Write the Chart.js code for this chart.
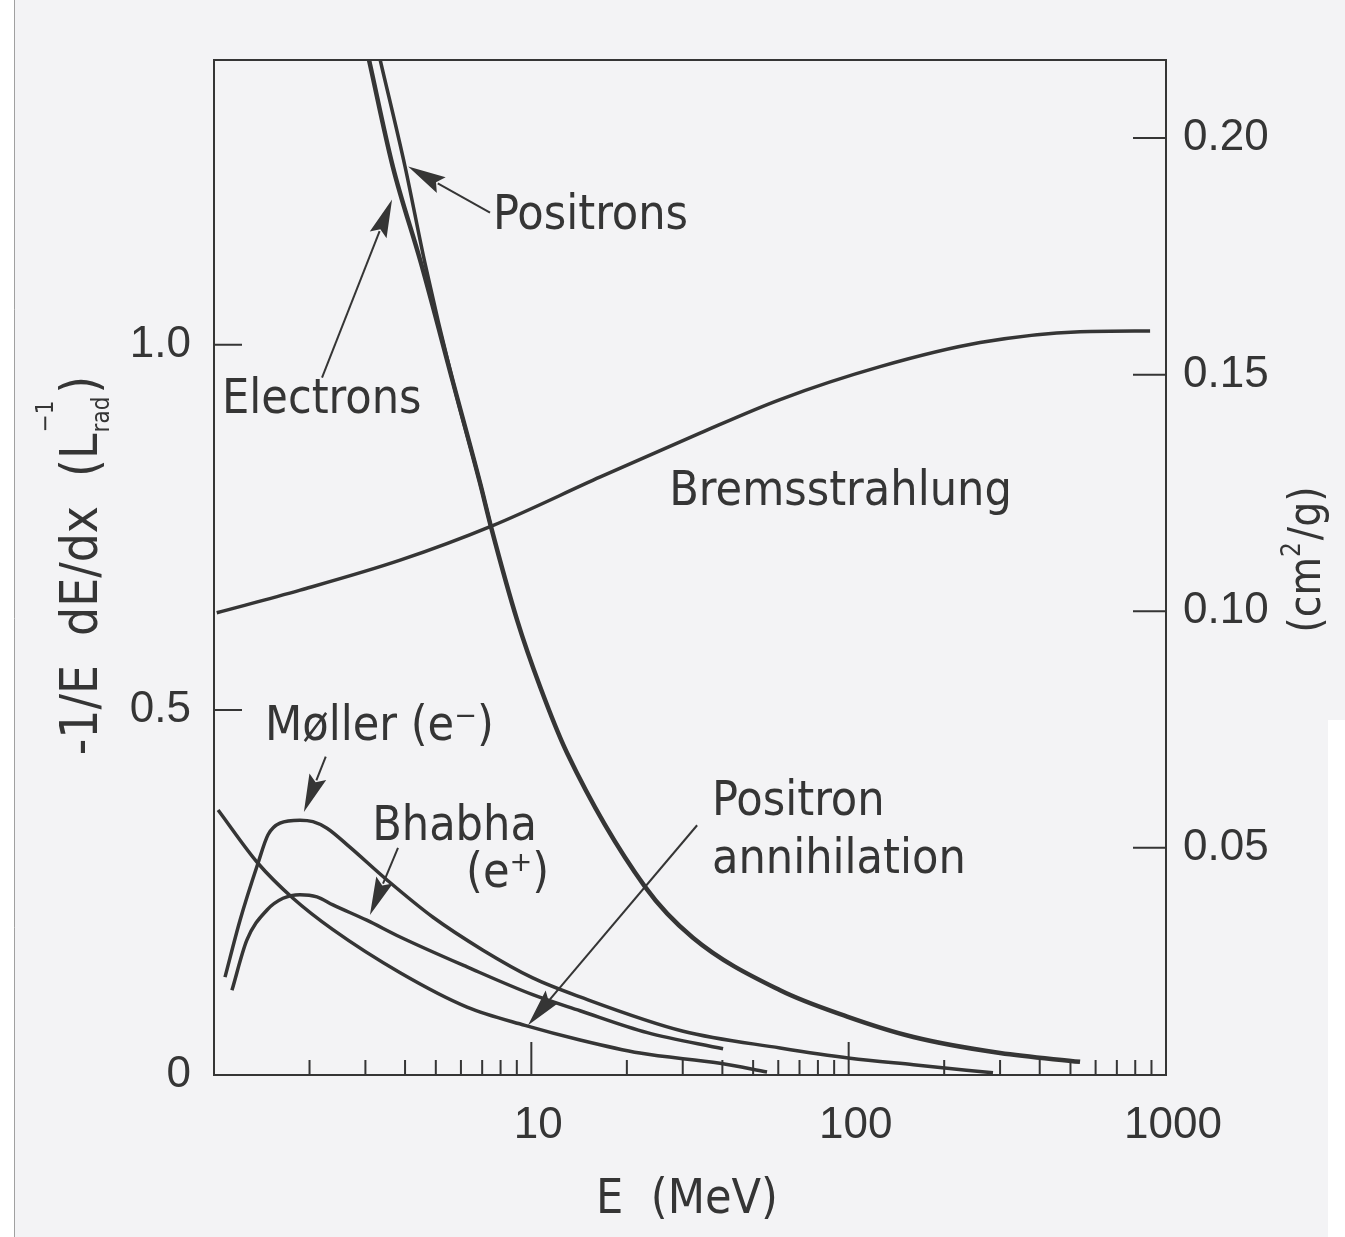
<!DOCTYPE html>
<html>
<head>
<meta charset="utf-8">
<title>Fractional energy loss per radiation length in lead</title>
<script src="https://cdn.jsdelivr.net/npm/chart.js@4.4.1/dist/chart.umd.min.js"></script>
<style>
  html, body { margin: 0; padding: 0; background: #ffffff; }
  #wrap { position: relative; width: 1345px; height: 1237px; }
</style>
</head>
<body>
<div id="wrap"><canvas id="loss-chart"></canvas></div>
<script>
// values: E in MeV, -1/E dE/dx in units of 1/L_rad
const electronE = [3.08, 3.66, 4.49, 5.67, 6.89, 7.46, 9.02, 10.65, 12.96, 22.8, 32.3, 60.8, 98.9, 160, 300, 536];
const electronV = [1.39, 1.244, 1.112, 0.948, 0.811, 0.751, 0.623, 0.532, 0.441, 0.258, 0.188, 0.116, 0.080, 0.052, 0.030, 0.018];

const positronE = [3.34, 4.00, 4.62, 5.67, 6.89, 7.46];
const positronV = [1.39, 1.244, 1.112, 0.948, 0.811, 0.751];

const bremsE = [1.02, 1.87, 3.86, 7.52, 16.5, 34.0, 60.8, 125.6, 259.5, 536, 891];
const bremsV = [0.633, 0.664, 0.705, 0.752, 0.819, 0.879, 0.925, 0.970, 1.003, 1.018, 1.019];

const mollerE = [1.083, 1.208, 1.376, 1.48, 1.614, 1.866, 2.05, 2.27, 2.68, 3.51, 4.90, 7.04, 10.1, 14.24, 30.1, 60.8, 101, 160, 285];
const mollerV = [0.134, 0.212, 0.290, 0.329, 0.345, 0.349, 0.347, 0.338, 0.312, 0.267, 0.216, 0.171, 0.133, 0.107, 0.060, 0.037, 0.023, 0.014, 0.003];

const bhabhaE = [1.139, 1.27, 1.469, 1.65, 1.866, 2.11, 2.37, 3.03, 3.86, 6.27, 10.1, 14.24, 23.2, 40.2];
const bhabhaV = [0.116, 0.185, 0.226, 0.242, 0.247, 0.244, 0.233, 0.212, 0.189, 0.148, 0.110, 0.088, 0.058, 0.036];

const annihE = [1.03, 1.376, 1.774, 2.37, 3.86, 6.27, 9.55, 14.24, 22.0, 39.3, 55.3];
const annihV = [0.363, 0.290, 0.242, 0.199, 0.140, 0.093, 0.068, 0.048, 0.030, 0.016, 0.004];

// axis ticks
const xTickValues = [10, 100, 1000];
const yTickValues = [0, 0.5, 1.0];
const y2TickValues = [0.05, 0.10, 0.15, 0.20];

// text labels and arrows, anchored in data coordinates
const noteLabels = ['Positrons', 'Electrons', 'Bremsstrahlung', 'Møller (e⁻)', 'Bhabha', '(e⁺)', 'Positron', 'annihilation'];
const noteE = [7.57, 1.06, 27.2, 1.448, 3.15, 6.23, 37.1, 37.1];
const noteV = [1.158, 0.907, 0.781, 0.459, 0.322, 0.258, 0.356, 0.277];

const arrowFromE = [7.41, 2.19, 2.25, 3.80, 33.3];
const arrowFromV = [1.181, 0.955, 0.436, 0.311, 0.342];
const arrowToE = [4.09, 3.64, 1.92, 3.10, 9.76];
const arrowToV = [1.244, 1.199, 0.360, 0.219, 0.068];

const ink = '#353535';
const textFont = "'DejaVu Sans Condensed', 'DejaVu Sans', sans-serif";
const numFont = "'Liberation Sans Narrow', 'Liberation Sans', sans-serif";

function toPoints(xs, ys) {
    return xs.map((x, i) => ({ x: x, y: ys[i] }));
}

function curve(label, xs, ys, width) {
    return {
        label: label,
        data: toPoints(xs, ys),
        borderColor: ink,
        borderWidth: width,
        pointRadius: 0,
        fill: false,
        cubicInterpolationMode: 'monotone'
    };
}

function drawArrow(ctx, x0, y0, x1, y1) {
    const ang = Math.atan2(y1 - y0, x1 - x0);
    const headLen = 38, headHalf = 9;
    const bx = x1 - headLen * Math.cos(ang);
    const by = y1 - headLen * Math.sin(ang);
    ctx.beginPath();
    ctx.moveTo(x0, y0);
    ctx.lineTo(bx + 4 * Math.cos(ang), by + 4 * Math.sin(ang));
    ctx.stroke();
    ctx.beginPath();
    ctx.moveTo(x1, y1);
    ctx.lineTo(bx + headHalf * Math.sin(ang), by - headHalf * Math.cos(ang));
    ctx.lineTo(bx + 6 * Math.cos(ang), by + 6 * Math.sin(ang));
    ctx.lineTo(bx - headHalf * Math.sin(ang), by + headHalf * Math.cos(ang));
    ctx.closePath();
    ctx.fill();
}

const figureDecor = {
    id: 'figureDecor',
    beforeDraw(chart) {
        const ctx = chart.ctx;
        ctx.save();
        ctx.fillStyle = '#ffffff';
        ctx.fillRect(0, 0, chart.width, chart.height);
        ctx.fillStyle = '#f3f3f5';
        ctx.fillRect(14, 0, chart.width - 14, chart.height);
        ctx.fillStyle = '#ffffff';
        ctx.fillRect(1328, 720, chart.width - 1328, chart.height - 720);
        ctx.strokeStyle = '#a0a0a0';
        ctx.lineWidth = 1;
        ctx.beginPath();
        ctx.moveTo(14.5, 0);
        ctx.lineTo(14.5, chart.height);
        ctx.stroke();
        ctx.restore();
    },
    afterDraw(chart) {
        const ctx = chart.ctx;
        const a = chart.chartArea;
        const xs = chart.scales.x, ys = chart.scales.y, y2s = chart.scales.y2;
        ctx.save();
        ctx.strokeStyle = ink;
        ctx.fillStyle = ink;
        ctx.lineWidth = 2;
        ctx.lineCap = 'butt';

        // frame
        ctx.strokeRect(a.left, a.top, a.right - a.left, a.bottom - a.top);

        // inward ticks
        ctx.beginPath();
        yTickValues.forEach(v => {
            const py = ys.getPixelForValue(v);
            ctx.moveTo(a.left, py);
            ctx.lineTo(a.left + 28, py);
        });
        y2TickValues.forEach(v => {
            const py = y2s.getPixelForValue(v);
            ctx.moveTo(a.right - 33, py);
            ctx.lineTo(a.right, py);
        });
        [1, 10, 100].forEach(dec => {
            for (let k = 2; k <= 9; k++) {
                const px = xs.getPixelForValue(k * dec);
                ctx.moveTo(px, a.bottom);
                ctx.lineTo(px, a.bottom - 15);
            }
        });
        xTickValues.forEach(v => {
            const px = xs.getPixelForValue(v);
            ctx.moveTo(px, a.bottom);
            ctx.lineTo(px, a.bottom - 33);
        });
        ctx.stroke();

        // arrows
        ctx.lineWidth = 2;
        for (let i = 0; i < arrowFromE.length; i++) {
            drawArrow(ctx,
                xs.getPixelForValue(arrowFromE[i]), ys.getPixelForValue(arrowFromV[i]),
                xs.getPixelForValue(arrowToE[i]), ys.getPixelForValue(arrowToV[i]));
        }

        // curve labels
        ctx.font = '48px ' + textFont;
        ctx.textAlign = 'left';
        ctx.textBaseline = 'alphabetic';
        noteLabels.forEach((t, i) => {
            ctx.fillText(t, xs.getPixelForValue(noteE[i]), ys.getPixelForValue(noteV[i]));
        });

        // x title
        ctx.textAlign = 'center';
        ctx.fillText('E  (MeV)', (a.left + a.right) / 2 - 3, a.bottom + 138);

        // left title, rotated, with L_rad^-1
        const midY = (a.top + a.bottom) / 2 - 2;
        ctx.save();
        ctx.translate(a.left - 117, midY);
        ctx.rotate(-Math.PI / 2);
        ctx.textAlign = 'left';
        const mainTxt = '-1/E  dE/dx  (L';
        ctx.font = '51px ' + textFont;
        const wMain = ctx.measureText(mainTxt).width;
        ctx.font = '24px ' + textFont;
        const wSub = ctx.measureText('rad').width;
        const wSup = ctx.measureText('−1').width;
        const wScript = Math.max(wSub, wSup);
        ctx.font = '51px ' + textFont;
        const wClose = ctx.measureText(')').width;
        let u = -(wMain + wScript + 4 + wClose) / 2;
        ctx.fillText(mainTxt, u, 0);
        u += wMain + 1;
        ctx.font = '24px ' + textFont;
        ctx.fillText('−1', u, -44);
        ctx.fillText('rad', u, 12);
        u += wScript + 3;
        ctx.font = '51px ' + textFont;
        ctx.fillText(')', u, 0);
        ctx.restore();

        // right title (cm^2/g)
        ctx.save();
        ctx.translate(a.right + 154, midY - 5);
        ctx.rotate(-Math.PI / 2);
        ctx.textAlign = 'left';
        ctx.font = '44px ' + textFont;
        const p1 = '(cm', p2 = '/g)';
        const w1 = ctx.measureText(p1).width;
        const w2 = ctx.measureText(p2).width;
        ctx.font = '26px ' + textFont;
        const wS = ctx.measureText('2').width;
        let q = -(w1 + wS + w2) / 2;
        ctx.font = '44px ' + textFont;
        ctx.fillText(p1, q, 0);
        q += w1;
        ctx.font = '26px ' + textFont;
        ctx.fillText('2', q, -20);
        q += wS + 2;
        ctx.font = '44px ' + textFont;
        ctx.fillText(p2, q, 0);
        ctx.restore();

        ctx.restore();
    }
};

const tickFont = { family: numFont, size: 44 };

new Chart(document.getElementById('loss-chart').getContext('2d'), {
    type: 'line',
    data: {
        datasets: [
            curve('Electrons', electronE, electronV, 4.5),
            curve('Positrons', positronE, positronV, 3.5),
            curve('Bremsstrahlung', bremsE, bremsV, 3.5),
            curve('Møller (e⁻)', mollerE, mollerV, 3.5),
            curve('Bhabha (e⁺)', bhabhaE, bhabhaV, 3.5),
            curve('Positron annihilation', annihE, annihV, 3.5)
        ]
    },
    options: {
        responsive: true,
        maintainAspectRatio: false,
        animation: false,
        devicePixelRatio: 1,
        layout: { padding: { top: 60, left: 0, right: 0, bottom: 0 } },
        plugins: {
            legend: { display: false },
            tooltip: { enabled: false }
        },
        scales: {
            x: {
                type: 'logarithmic',
                position: 'bottom',
                min: 1,
                max: 1000,
                afterBuildTicks: s => { s.ticks = xTickValues.map(v => ({ value: v })); },
                afterFit: s => { s.height = 162; },
                grid: { display: false, drawTicks: false },
                border: { display: false },
                ticks: {
                    font: tickFont,
                    color: ink,
                    padding: 24,
                    labelOffset: 7,
                    maxRotation: 0,
                    autoSkip: false,
                    callback: v => String(v)
                }
            },
            y: {
                type: 'linear',
                position: 'left',
                min: 0,
                max: 1.39,
                afterBuildTicks: s => { s.ticks = yTickValues.map(v => ({ value: v })); },
                afterFit: s => { s.width = 214; },
                grid: { display: false, drawTicks: false },
                border: { display: false },
                ticks: {
                    font: tickFont,
                    color: ink,
                    padding: 23,
                    callback: v => (v === 0 ? '0' : v.toFixed(1))
                }
            },
            y2: {
                type: 'linear',
                position: 'right',
                min: 0.002,
                max: 0.2165,
                afterBuildTicks: s => { s.ticks = y2TickValues.map(v => ({ value: v })); },
                afterFit: s => { s.width = 179; },
                grid: { display: false, drawTicks: false },
                border: { display: false },
                ticks: {
                    font: tickFont,
                    color: ink,
                    padding: 17,
                    callback: v => v.toFixed(2)
                }
            }
        }
    },
    plugins: [figureDecor]
});
</script>
</body>
</html>
